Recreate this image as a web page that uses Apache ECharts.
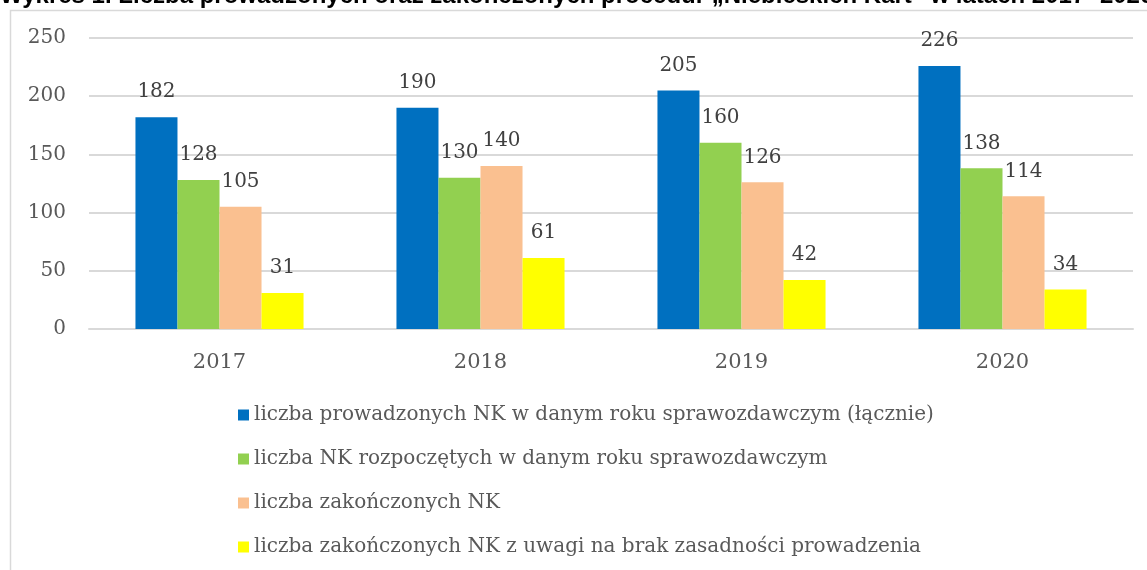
<!DOCTYPE html>
<html><head><meta charset="utf-8">
<script src="https://cdn.jsdelivr.net/npm/echarts@6/dist/echarts.min.js"></script>
<style>html,body{margin:0;padding:0;background:#fff}#c{width:1147px;height:570px}</style>
</head><body><div id="c"></div>
<script>
const titleText = 'Wykres 1. Liczba prowadzonych oraz zakończonych procedur „Niebieskich Kart” w latach 2017- 2020';
const categories = ['2017', '2018', '2019', '2020'];
const seriesNames = [
  'liczba prowadzonych NK w danym roku sprawozdawczym (łącznie)',
  'liczba NK rozpoczętych w danym roku sprawozdawczym',
  'liczba zakończonych NK',
  'liczba zakończonych NK z uwagi na brak zasadności prowadzenia'
];
const prowadzone = [182, 190, 205, 226];
const rozpoczete = [128, 130, 160, 138];
const zakonczone = [105, 140, 126, 114];
const brakZasadnosci = [31, 61, 42, 34];
const colors = ['#0070C0', '#92D050', '#FAC090', '#FFFF00'];
const yTicks = [0, 50, 100, 150, 200, 250];

const serif = 'DejaVu Serif';
const chart = echarts.init(document.getElementById('c'));
const values = [prowadzone, rozpoczete, zakonczone, brakZasadnosci];
chart.setOption({
  animation: false,
  backgroundColor: '#fff',
  graphic: [
    {type: 'rect', shape: {x: 10.5, y: 10.5, width: 1200, height: 700}, style: {fill: 'none', stroke: '#D9D9D9', lineWidth: 1.5}, z: 0},
    {type: 'text', x: 0, y: -4, style: {text: titleText, font: 'bold 24px "Liberation Sans", Arial', fill: '#000', verticalAlign: 'middle'}, z: 10}
  ],
  grid: {left: 89, right: 14, top: 38, bottom: 241},
  legend: {
    orient: 'vertical', left: 233, top: 400, itemGap: 24,
    itemWidth: 11, itemHeight: 11, icon: 'rect',
    textStyle: {fontFamily: serif, fontSize: 20, color: '#595959'},
    data: seriesNames
  },
  xAxis: {
    type: 'category', data: categories,
    axisLine: {lineStyle: {color: '#D9D9D9', width: 2}},
    axisTick: {show: false},
    axisLabel: {fontFamily: serif, fontSize: 21, color: '#595959', margin: 23}
  },
  yAxis: {
    type: 'value', min: 0, max: 250, interval: 50,
    axisLine: {show: false}, axisTick: {show: false},
    splitLine: {lineStyle: {color: '#D9D9D9', width: 2}},
    axisLabel: {fontFamily: serif, fontSize: 20, color: '#595959', margin: 23,
      formatter: v => yTicks.includes(v) ? String(v) : ''}
  },
  series: seriesNames.map((n, i) => ({
    name: n, type: 'bar', data: values[i],
    barGap: '0%', barCategoryGap: '35.6%',
    itemStyle: {color: colors[i]},
    label: {show: true, position: 'top', distance: 15, fontFamily: serif, fontSize: 20, color: '#404040'}
  }))
});
</script></body></html>
